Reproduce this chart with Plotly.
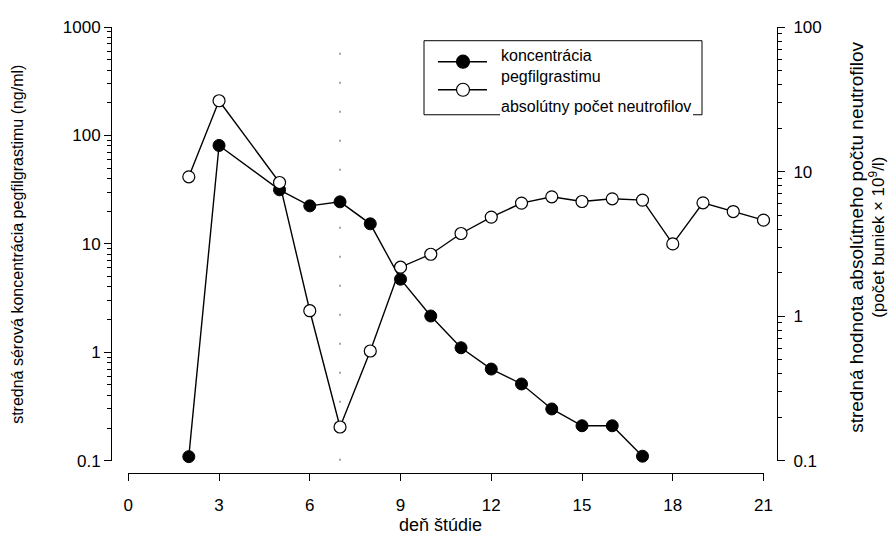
import plotly.graph_objects as go

# ---------------- data ----------------
days_conc = [2, 3, 5, 6, 7, 8, 9, 10, 11, 12, 13, 14, 15, 16, 17]
conc = [0.109, 80.8, 31.5, 22.4, 24.4, 15.3, 4.72, 2.16, 1.10, 0.70, 0.51, 0.30, 0.21, 0.21, 0.11]

days_anc = [2, 3, 5, 6, 7, 8, 9, 10, 11, 12, 13, 14, 15, 16, 17, 18, 19, 20, 21]
anc = [9.2, 30.9, 8.4, 1.09, 0.171, 0.574, 2.18, 2.68, 3.73, 4.84, 6.05, 6.69, 6.21, 6.48, 6.35, 3.16, 6.08, 5.29, 4.61]

x_ticks = [0, 3, 6, 9, 12, 15, 18, 21]
left_ticks = [0.1, 1, 10, 100, 1000]
left_ticklabels = ["0.1", "1", "10", "100", "1000"]
right_ticks = [0.1, 1, 10, 100]
right_ticklabels = ["0.1", "1", "10", "100"]
marker_day = 7

name_conc = "koncentrácia<br>pegfilgrastimu"
name_anc = "absolútny počet neutrofilov"
x_title = "deň štúdie"
y_title = "stredná sérová koncentrácia pegfilgrastimu (ng/ml)"
y2_title_1 = "stredná hodnota absolútneho počtu neutrofilov"
y2_title_2 = "(počet buniek × 10<sup>9</sup>/l)"

# ---------------- layout geometry (pixels) ----------------
W, H = 889, 535
L, R, T, B = 111, 777, 27.3, 473  # paper box
PW, PH = R - L, B - T
X0PX, X21PX = 128.3, 763.5
YBOT = 460.7


def px(x):
    return (x - L) / PW


def py(y):
    return (B - y) / PH


FONT = "Liberation Sans, Arial, sans-serif"


def minor_vals(decades):
    out = []
    for d in decades:
        for m in range(2, 10):
            out.append(m * 10 ** d)
    return out


fig = go.Figure()

fig.add_trace(go.Scatter(
    x=days_conc, y=conc, mode="lines+markers", name="conc",
    line=dict(color="black", width=1.4),
    marker=dict(symbol="circle", size=12, color="black", line=dict(color="black", width=1)),
    yaxis="y", showlegend=False, cliponaxis=False, hoverinfo="skip",
))
fig.add_trace(go.Scatter(
    x=days_anc, y=anc, mode="lines+markers", name="anc",
    line=dict(color="black", width=1.4),
    marker=dict(symbol="circle", size=12, color="white", line=dict(color="black", width=1.2)),
    yaxis="y2", showlegend=False, cliponaxis=False, hoverinfo="skip",
))

axis_common = dict(
    showgrid=False, zeroline=False, showline=True, linecolor="black", linewidth=1,
    ticks="outside", tickcolor="black", ticklen=7, tickwidth=1, automargin=False,
    tickfont=dict(family=FONT, size=17, color="black"),
)

fig.update_layout(
    width=W, height=H,
    margin=dict(l=L, r=W - R, t=T, b=H - B, pad=0, autoexpand=False),
    paper_bgcolor="white", plot_bgcolor="white",
    showlegend=False,
    xaxis=dict(
        **axis_common,
        range=[0, 21],
        tickvals=x_ticks, ticktext=[str(v) for v in x_ticks],
        domain=[px(X0PX), px(X21PX)],
        anchor="free", position=0, ticklabelstandoff=10,
    ),
    yaxis=dict(
        **axis_common,
        type="log", range=[-1, 3],
        tickvals=left_ticks, ticktext=left_ticklabels,
        domain=[py(YBOT), 1], anchor="free", position=0,
        minor=dict(ticks="outside", ticklen=4, tickcolor="black", tickwidth=1,
                   tickvals=minor_vals([-1, 0, 1, 2]), showgrid=False),
    ),
    yaxis2=dict(
        **axis_common,
        type="log", range=[-1, 2],
        tickvals=right_ticks, ticktext=right_ticklabels,
        domain=[py(YBOT), 1], anchor="free", position=1,
        overlaying="y", side="right", ticklabelstandoff=5,
        minor=dict(ticks="outside", ticklen=4, tickcolor="black", tickwidth=1,
                   tickvals=minor_vals([-1, 0, 1]), showgrid=False),
    ),
)

# vertical dotted marker line at day 7
fig.add_shape(type="line", xref="x", yref="y domain", x0=marker_day, x1=marker_day, y0=0, y1=0.99,
              line=dict(color="#888888", width=1.5, dash="2px,27px"), layer="below")

# ---------------- custom legend ----------------
box_l, box_r, box_t, box_b = 424, 702, 41, 115
line_style = dict(color="black", width=1)
for (x0, y0, x1, y1) in [(box_l, box_t, box_r, box_t), (box_l, box_t, box_l, box_b),
                         (box_r, box_t, box_r, box_b), (box_l, box_b, 500, box_b),
                         (693, box_b, box_r, box_b)]:
    fig.add_shape(type="line", xref="paper", yref="paper",
                  x0=px(x0), y0=py(y0), x1=px(x1), y1=py(y1), line=line_style)

for ly, fill in [(62, "black"), (90, "white")]:
    fig.add_shape(type="line", xref="paper", yref="paper",
                  x0=px(438), x1=px(487), y0=py(ly), y1=py(ly),
                  line=dict(color="black", width=1.4))
    r = 6.5
    fig.add_shape(type="circle", xref="paper", yref="paper",
                  x0=px(463 - r), x1=px(463 + r), y0=py(ly - r), y1=py(ly + r),
                  fillcolor=fill, line=dict(color="black", width=1.2))

fig.add_annotation(x=px(499), y=py(66), xref="paper", yref="paper", text=name_conc,
                   showarrow=False, xanchor="left", yanchor="middle", align="left",
                   font=dict(family=FONT, size=16, color="black"))
fig.add_annotation(x=px(499), y=py(107), xref="paper", yref="paper", text=name_anc,
                   showarrow=False, xanchor="left", yanchor="middle", align="left",
                   font=dict(family=FONT, size=16, color="black"))

# ---------------- axis titles ----------------
fig.add_annotation(x=px(440), y=py(525), xref="paper", yref="paper", text=x_title,
                   showarrow=False, xanchor="center", yanchor="middle",
                   font=dict(family=FONT, size=18, color="black"))
fig.add_annotation(x=px(18), y=py(245), xref="paper", yref="paper", text=y_title,
                   showarrow=False, textangle=-90, xanchor="center", yanchor="middle",
                   font=dict(family=FONT, size=16, color="black"))
fig.add_annotation(x=px(857), y=py(238), xref="paper", yref="paper", text=y2_title_1,
                   showarrow=False, textangle=-90, xanchor="center", yanchor="middle",
                   font=dict(family=FONT, size=19, color="black"))
fig.add_annotation(x=px(877), y=py(238), xref="paper", yref="paper", text=y2_title_2,
                   showarrow=False, textangle=-90, xanchor="center", yanchor="middle",
                   font=dict(family=FONT, size=17, color="black"))

fig.write_html("out.html", config={"displayModeBar": False, "staticPlot": True},
               post_script="document.body.style.margin='0';document.body.style.overflow='hidden';")
